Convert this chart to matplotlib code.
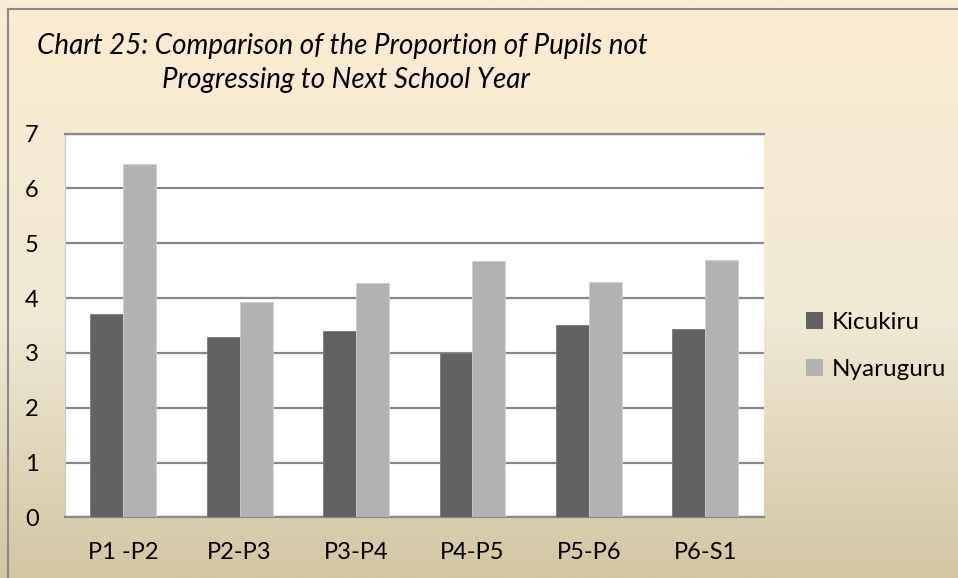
import numpy as np
import matplotlib
matplotlib.use('Agg')
import matplotlib.pyplot as plt
from matplotlib.lines import Line2D
from matplotlib.patches import Patch

# data
categories = ['P1 -P2', 'P2-P3', 'P3-P4', 'P4-P5', 'P5-P6', 'P6-S1']
kicukiru = [3.71, 3.29, 3.40, 3.00, 3.51, 3.43]
nyaruguru = [6.44, 3.92, 4.28, 4.67, 4.30, 4.70]
series_names = ['Kicukiru', 'Nyaruguru']
y_ticks = [0, 1, 2, 3, 4, 5, 6, 7]

plt.rcParams['font.family'] = ['Lato', 'DejaVu Sans']

W, H = 958, 578
fig = plt.figure(figsize=(W / 100, H / 100), dpi=100)

# background: vertical parchment gradient over the whole figure
bg = fig.add_axes([0, 0, 1, 1], zorder=0)
stops = np.array([0.0, 0.55, 1.0])
top = np.array([252, 236, 208])
mid = np.array([240, 233, 213])
bot = np.array([212, 198, 162])
t = np.linspace(0, 1, 300)
cols = np.stack([np.interp(t, stops, [top[i], mid[i], bot[i]]) for i in range(3)], axis=1) / 255
bg.imshow(cols[:, None, :], aspect='auto', extent=[0, 1, 0, 1])
bg.set_xlim(0, 1)
bg.set_ylim(0, 1)
bg.axis('off')
# chart frame (runs off right and bottom edges)
bg.add_line(Line2D([8 / W, 8 / W], [0, 1 - 9 / H], color='#8a8a8a', lw=1.5))
bg.add_line(Line2D([8 / W, 1], [1 - 9 / H, 1 - 9 / H], color='#8a8a8a', lw=1.5))

# title
fig.text(37 / W, 1 - 54 / H, 'Chart 25: Comparison of the Proportion of Pupils not',
         fontsize=20, style='italic', va='baseline', ha='left', zorder=5)
fig.text(162 / W, 1 - 88 / H, 'Progressing to Next School Year',
         fontsize=20, style='italic', va='baseline', ha='left', zorder=5)

ax = fig.add_axes([65 / W, 1 - 517.4 / H, (763.5 - 65) / W, (517.4 - 133.5) / H], zorder=2)
ax.set_facecolor('white')

x = np.arange(len(categories))
w = 0.283
ax.bar(x - w / 2, kicukiru, w, color='#626262', edgecolor='#7a7a7a', linewidth=0.6, zorder=3)
ax.bar(x + w / 2, nyaruguru, w, color='#b2b2b2', edgecolor='#d0d0d0', linewidth=0.6, zorder=3)

ax.set_xlim(-0.5, len(categories) - 0.5)
ax.set_ylim(0, 7)
ax.set_yticks(y_ticks)
ax.set_xticks(x)
ax.set_xticklabels(categories)
ax.yaxis.grid(True, color='#888888', lw=1.6)
ax.set_axisbelow(True)
ax.tick_params(axis='both', length=0, labelsize=17)
ax.tick_params(axis='y', pad=19)
ax.tick_params(axis='x', pad=18)

ax.spines['right'].set_visible(False)
ax.spines['top'].set_color('#888888')
ax.spines['top'].set_linewidth(1.6)
ax.spines['bottom'].set_color('#888888')
ax.spines['bottom'].set_linewidth(1.6)
ax.spines['left'].set_color('#c8c8c8')
ax.spines['left'].set_linewidth(0.8)

handles = [Patch(facecolor='#626262'), Patch(facecolor='#b2b2b2')]
fig.legend(handles, series_names, loc='center left', bbox_to_anchor=(806 / W, 1 - 346 / H),
           frameon=False, fontsize=17.5, handlelength=0.7, handleheight=0.7,
           handletextpad=0.35, labelspacing=1.05, borderaxespad=0, borderpad=0)

fig.savefig('out.png', dpi=100)
